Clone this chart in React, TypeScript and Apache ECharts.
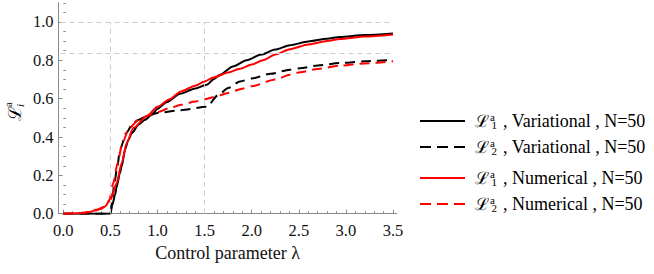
import React, { useEffect, useRef } from "react";
import * as echarts from "echarts";

// ---- data ----
const variational1: [number, number][] = [
  [0, 0], [0.5, 0], [0.52, 0.045], [0.55, 0.1], [0.567, 0.142], [0.6, 0.21], [0.62, 0.247],
  [0.655, 0.334], [0.69, 0.385], [0.726, 0.42], [0.8, 0.465], [0.867, 0.49], [0.95, 0.522],
  [1.0, 0.548], [1.1, 0.583], [1.239, 0.625], [1.4, 0.653], [1.522, 0.672], [1.6, 0.703],
  [1.664, 0.725], [1.8, 0.768], [1.947, 0.801], [2.1, 0.83], [2.25, 0.856], [2.406, 0.879],
  [2.6, 0.898], [2.8, 0.913], [2.937, 0.922], [3.2, 0.932], [3.5, 0.94],
];
const variational2: [number, number][] = [
  [0, 0], [0.5, 0], [0.52, 0.08], [0.538, 0.142], [0.573, 0.247], [0.602, 0.334],
  [0.666, 0.42], [0.743, 0.473], [0.8, 0.49], [0.867, 0.505], [1.0, 0.525], [1.25, 0.54],
  [1.522, 0.558], [1.646, 0.62], [1.75, 0.655], [1.876, 0.69], [2.0, 0.705], [2.2, 0.73],
  [2.406, 0.751], [2.513, 0.758], [2.7, 0.773], [2.937, 0.786], [3.2, 0.795], [3.5, 0.803],
];
const numerical1: [number, number][] = [
  [0, 0], [0.1, 0.001], [0.2, 0.003], [0.284, 0.01], [0.35, 0.02], [0.443, 0.038], [0.5, 0.073],
  [0.567, 0.16], [0.62, 0.264], [0.673, 0.369], [0.743, 0.447], [0.885, 0.508], [1.0, 0.558],
  [1.13, 0.597], [1.25, 0.638], [1.4, 0.668], [1.5, 0.69], [1.592, 0.71], [1.75, 0.737],
  [1.876, 0.756], [2.0, 0.778], [2.12, 0.801], [2.25, 0.83], [2.406, 0.858], [2.6, 0.883],
  [2.8, 0.901], [2.937, 0.911], [3.2, 0.924], [3.5, 0.935],
];
const numerical2: [number, number][] = [
  [0, 0], [0.2, 0.004], [0.3, 0.01], [0.4, 0.025], [0.45, 0.04], [0.49, 0.073], [0.53, 0.16],
  [0.577, 0.264], [0.626, 0.369], [0.7, 0.447], [0.8, 0.49], [0.885, 0.51], [1.0, 0.53],
  [1.13, 0.551], [1.25, 0.568], [1.4, 0.585], [1.5, 0.597], [1.592, 0.607], [1.75, 0.63],
  [1.9, 0.652], [2.0, 0.665], [2.25, 0.7], [2.406, 0.725], [2.513, 0.738], [2.7, 0.755],
  [2.937, 0.772], [3.2, 0.784], [3.5, 0.795],
];

const xMajorTicks = [0, 0.5, 1, 1.5, 2, 2.5, 3, 3.5];
const xMinorTicks = [
  0.1, 0.2, 0.3, 0.4, 0.6, 0.7, 0.8, 0.9, 1.1, 1.2, 1.3, 1.4, 1.6, 1.7, 1.8, 1.9,
  2.1, 2.2, 2.3, 2.4, 2.6, 2.7, 2.8, 2.9, 3.1, 3.2, 3.3, 3.4,
];
const yMajorTicks = [0, 0.2, 0.4, 0.6, 0.8, 1.0];
const yMinorTicks = [
  0.05, 0.1, 0.15, 0.25, 0.3, 0.35, 0.45, 0.5, 0.55, 0.65, 0.7, 0.75, 0.85, 0.9, 0.95, 1.05, 1.1,
];
const xGridLines = [0.5, 1.5];
const yGridLines = [0.835, 1.0];

const seriesNames = ["V1", "V2", "N1", "N2"];
const legendLabels: Record<string, string> = {
  V1: "{L|ℒ}{sup|a}{sub|1}{t| , Variational , N=50}",
  V2: "{L|ℒ}{sup|a}{sub|2}{t| , Variational , N=50}",
  N1: "{L|ℒ}{sup|a}{sub|1}{t| , Numerical , N=50}",
  N2: "{L|ℒ}{sup|a}{sub|2}{t| , Numerical , N=50}",
};

const SERIF = "Liberation Serif, Times New Roman, serif";
const SCRIPT = "DejaVu Serif, serif";
const SOLID_ICON = "path://M0 0h45v2H0z";
const DASH_ICON = "path://M0 0h11v2H0z M17 0h11v2H17z M34 0h11v2H34z";
const X_MIN = -0.05;
const X_MAX = 3.54;
const Y_MIN = 0;
const Y_MAX = 1.1;

export default function App() {
  const ref = useRef<HTMLDivElement>(null);
  useEffect(() => {
    if (!ref.current) return;
    const chart = echarts.init(ref.current, undefined, { renderer: "svg" });
    const axisColor = "#8a8a8a";
    const rich = {
      L: { fontFamily: SCRIPT, fontSize: 17, lineHeight: 20, color: "#000" },
      sup: { fontFamily: SERIF, fontSize: 11, lineHeight: 20, padding: [0, 0, 9, 1], width: 0.5, color: "#000" },
      sub: { fontFamily: SERIF, fontSize: 11, lineHeight: 20, padding: [7, 0, 0, 1], width: 7, color: "#000" },
      t: { fontFamily: SERIF, fontSize: 18, lineHeight: 20, color: "#000" },
    };
    const legendCommon = {
      orient: "vertical" as const,
      left: 420,
      padding: 0,
      itemWidth: 45,
      itemHeight: 2,
      itemGap: 6,
      formatter: (name: string) => legendLabels[name],
      itemStyle: { borderWidth: 0 },
      textStyle: { fontFamily: SERIF, fontSize: 18, color: "#000", padding: [0, 0, 0, 5], rich },
      selectedMode: false,
    };
    const gridLineData: any[] = [
      ...xGridLines.map((v) => [{ coord: [v, 0] }, { coord: [v, 1.0] }]),
      ...yGridLines.map((v) => [{ coord: [-0.03, v] }, { coord: [3.5, v] }]),
    ];
    const lineSeries = (name: string, data: [number, number][], color: string, dashed: boolean) => ({
      name,
      type: "line",
      data,
      symbol: "none",
      smooth: 0.25,
      smoothMonotone: "x",
      lineStyle: { color, width: 2, type: dashed ? [10, 6] : "solid" },
      itemStyle: { color },
      z: 3,
    });
    const labelStyle = { fontFamily: SERIF, fontSize: 16.5, color: "#111" };
    chart.setOption({
      animation: false,
      textStyle: { fontFamily: SERIF },
      grid: { left: 58.6, right: 257.2, top: 2.8, bottom: 60.3, containLabel: false },
      xAxis: [
        {
          type: "value",
          min: X_MIN,
          max: X_MAX,
          axisLine: { show: true, onZero: false, lineStyle: { color: axisColor, width: 1 } },
          axisTick: { show: true, inside: true, length: 4, customValues: xMajorTicks, lineStyle: { color: axisColor } },
          axisLabel: {
            show: true,
            customValues: xMajorTicks,
            formatter: (v: number) => v.toFixed(1),
            ...labelStyle,
            margin: 8,
          },
          splitLine: { show: false },
          name: "Control parameter λ",
          nameLocation: "middle",
          nameGap: 30,
          nameTextStyle: { fontFamily: SERIF, fontSize: 18, color: "#111" },
        },
        {
          type: "value",
          min: X_MIN,
          max: X_MAX,
          position: "bottom",
          axisLine: { show: false },
          axisTick: { show: true, inside: true, length: 2.5, customValues: xMinorTicks, lineStyle: { color: axisColor } },
          axisLabel: { show: false },
          splitLine: { show: false },
        },
      ],
      yAxis: [
        {
          type: "value",
          min: Y_MIN,
          max: Y_MAX,
          axisLine: { show: true, onZero: false, lineStyle: { color: axisColor, width: 1 } },
          axisTick: { show: true, inside: true, length: 4, customValues: yMajorTicks, lineStyle: { color: axisColor } },
          axisLabel: {
            show: true,
            customValues: yMajorTicks,
            formatter: (v: number) => v.toFixed(1),
            ...labelStyle,
            margin: 5,
          },
          splitLine: { show: false },
        },
        {
          type: "value",
          min: Y_MIN,
          max: Y_MAX,
          position: "left",
          axisLine: { show: false },
          axisTick: { show: true, inside: true, length: 2.5, customValues: yMinorTicks, lineStyle: { color: axisColor } },
          axisLabel: { show: false },
          splitLine: { show: false },
        },
      ],
      legend: [
        {
          ...legendCommon,
          top: 111,
          data: [
            { name: "V1", icon: SOLID_ICON },
            { name: "V2", icon: DASH_ICON },
          ],
        },
        {
          ...legendCommon,
          top: 168,
          data: [
            { name: "N1", icon: SOLID_ICON },
            { name: "N2", icon: DASH_ICON },
          ],
        },
      ],
      graphic: [
        {
          type: "group",
          x: 14,
          y: 121,
          rotation: Math.PI / 2,
          silent: true,
          children: [
            {
              type: "text",
              x: 0,
              y: 0,
              style: { text: "ℒ", font: "18px DejaVu Serif, serif", fill: "#000", textAlign: "left", textVerticalAlign: "middle" },
            },
            {
              type: "text",
              x: 14,
              y: -6,
              style: { text: "a", font: "11px Liberation Serif, serif", fill: "#000", textAlign: "left", textVerticalAlign: "middle" },
            },
            {
              type: "text",
              x: 14,
              y: 6,
              style: { text: "i", font: "italic 11px Liberation Serif, serif", fill: "#000", textAlign: "left", textVerticalAlign: "middle" },
            },
          ],
        },
      ],
      series: [
        {
          name: "grid",
          type: "line",
          data: [],
          symbol: "none",
          silent: true,
          z: 1,
          markLine: {
            silent: true,
            symbol: ["none", "none"],
            label: { show: false },
            lineStyle: { color: "#cccccc", width: 1, type: [5, 4] },
            data: gridLineData,
          },
        },
        lineSeries(seriesNames[0], variational1, "#000000", false),
        lineSeries(seriesNames[1], variational2, "#000000", true),
        lineSeries(seriesNames[2], numerical1, "#ff0000", false),
        lineSeries(seriesNames[3], numerical2, "#ff0000", true),
      ],
    });
    return () => chart.dispose();
  }, []);
  return <div ref={ref} style={{ width: 654, height: 274, position: "absolute", left: 0, top: 0 }} />;
}
